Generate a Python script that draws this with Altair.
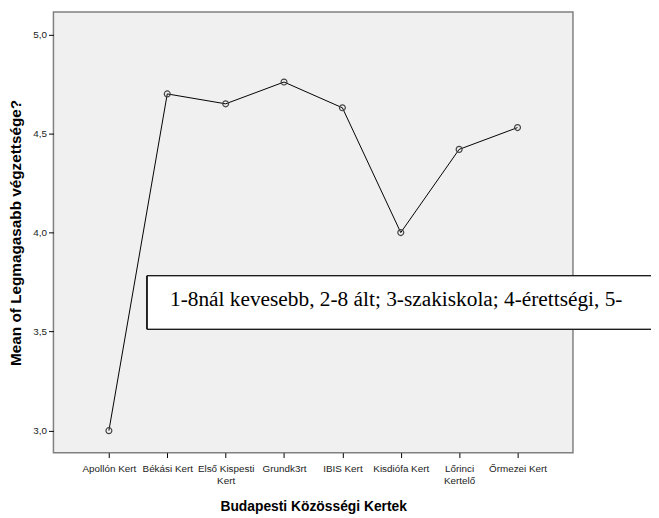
import altair as alt
import pandas as pd

gardens = ["Apollón Kert", "Békási Kert", "Első Kispesti Kert", "Grundk3rt",
           "IBIS Kert", "Kisdiófa Kert", "Lőrinci Kertelő", "Őrmezei Kert"]
means = [3.00, 4.70, 4.65, 4.76, 4.63, 4.00, 4.42, 4.53]
y_ticks = [3.0, 3.5, 4.0, 4.5, 5.0]
note_text = "1-8nál kevesebb, 2-8 ált; 3-szakiskola; 4-érettségi, 5-"

df = pd.DataFrame({"garden": gardens, "mean": means})

W, H = 526, 446

x_enc = alt.X(
    "garden:N", sort=gardens,
    scale=alt.Scale(type="point", padding=0.95),
    axis=alt.Axis(
        title="Budapesti Közösségi Kertek", labelAngle=0,
        labelExpr="datum.label == 'Első Kispesti Kert' ? ['Első Kispesti', 'Kert'] : "
                  "datum.label == 'Lőrinci Kertelő' ? ['Lőrinci', 'Kertelő'] : datum.label",
        labelLineHeight=12, labelPadding=6, tickSize=5, domain=False, grid=False,
        titleX=W / 2, titleY=55, titleBaseline="middle", titleAlign="center",
        titleFontSize=14,
    ),
)
y_enc = alt.Y(
    "mean:Q",
    scale=alt.Scale(domain=[2.889, 5.113], nice=False, zero=False),
    axis=alt.Axis(
        title="Mean of Legmagasabb végzettsége?", values=y_ticks,
        labelExpr="replace(format(datum.value, '.1f'), '.', ',')",
        tickSize=5, labelPadding=2, domain=False, grid=False,
        titleX=-38, titleY=H / 2, titleAngle=270, titleBaseline="middle",
        titleAlign="center", titleFontSize=15.5,
    ),
)

line = alt.Chart(df).mark_line(color="#000000", strokeWidth=1).encode(x=x_enc, y=y_enc)
pts = alt.Chart(df).mark_point(filled=False, color="#444444", size=36, strokeWidth=1.2,
                               opacity=1).encode(x=x_enc, y=y_enc)

box = alt.Chart(df).mark_rect(fill="white", stroke="black", strokeWidth=1).encode(
    x=alt.value(95), x2=alt.value(640), y=alt.value(267), y2=alt.value(321)
)
note = alt.Chart(pd.DataFrame({"t": [note_text]})).mark_text(
    font="Liberation Serif", fontSize=21.6, align="left", baseline="alphabetic", color="black"
).encode(x=alt.value(118), y=alt.value(298), text="t:N")

chart = alt.layer(line, pts, box, note).properties(
    width=W, height=H,
    autosize=alt.AutoSizeParams(type="none"),
    padding={"left": 46, "top": 1, "right": 79, "bottom": 62},
).configure_view(
    fill="#f0f0f0", stroke="#808080", strokeWidth=1.5
).configure_axis(
    labelFont="Liberation Sans", labelFontSize=10, labelColor="#222222",
    titleFont="Liberation Sans", titleFontWeight="bold", titleColor="#000000",
    tickColor="#000000", tickWidth=1,
)

chart.save("out.html", embed_options={"renderer": "svg", "actions": False})
